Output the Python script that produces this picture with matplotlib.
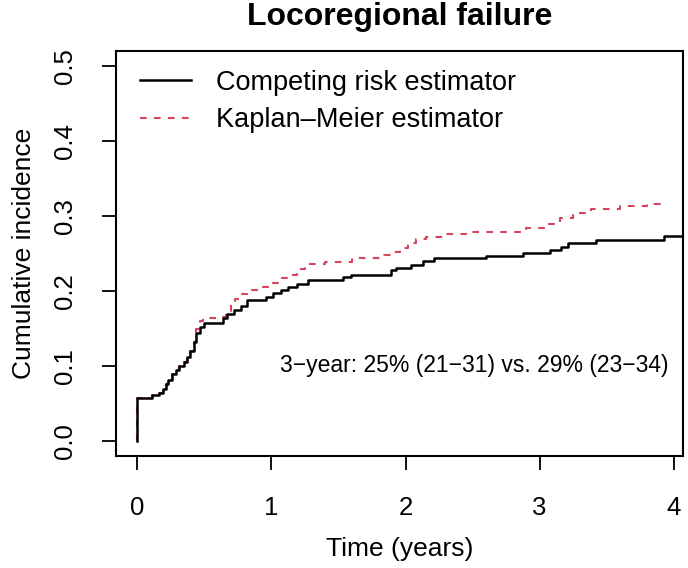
import matplotlib
matplotlib.use("Agg")
import matplotlib.pyplot as plt

plt.rcParams['font.family'] = ['Liberation Sans', 'DejaVu Sans']

# competing risk estimator (step curve)
cr_time = [0, 0, 0.11, 0.16, 0.19, 0.21, 0.23, 0.26, 0.29, 0.31, 0.35, 0.37, 0.39,
           0.42, 0.44, 0.47, 0.50, 0.64, 0.67, 0.72, 0.77, 0.82, 0.96, 1.01, 1.07,
           1.12, 1.19, 1.27, 1.53, 1.59, 1.89, 1.93, 2.04, 2.13, 2.21, 2.60, 2.88,
           3.08, 3.16, 3.21, 3.42, 3.93, 4.07]
cr_value = [0, 0.058, 0.061, 0.064, 0.070, 0.076, 0.082, 0.090, 0.095, 0.100, 0.106,
            0.112, 0.120, 0.132, 0.144, 0.152, 0.157, 0.164, 0.170, 0.175, 0.180,
            0.188, 0.192, 0.197, 0.201, 0.205, 0.210, 0.215, 0.219, 0.222, 0.228,
            0.231, 0.235, 0.240, 0.244, 0.247, 0.251, 0.255, 0.259, 0.264, 0.268,
            0.273, 0.273]

# 1 - Kaplan-Meier
km_time = [0, 0, 0.11, 0.16, 0.19, 0.21, 0.23, 0.26, 0.29, 0.31, 0.35, 0.37, 0.39,
           0.42, 0.44, 0.47, 0.49, 0.62, 0.66, 0.70, 0.73, 0.78, 0.83, 0.92, 1.00,
           1.07, 1.13, 1.19, 1.25, 1.40, 1.60, 1.84, 1.90, 1.96, 2.02, 2.08, 2.15,
           2.28, 2.45, 2.90, 3.05, 3.15, 3.25, 3.38, 3.60, 3.80, 3.90]
km_value = [0, 0.058, 0.061, 0.064, 0.070, 0.076, 0.082, 0.090, 0.095, 0.100, 0.106,
            0.112, 0.120, 0.132, 0.150, 0.160, 0.164, 0.166, 0.172, 0.182, 0.190,
            0.196, 0.201, 0.206, 0.211, 0.217, 0.222, 0.230, 0.236, 0.239, 0.244,
            0.248, 0.252, 0.258, 0.264, 0.269, 0.272, 0.276, 0.279, 0.284, 0.290,
            0.297, 0.304, 0.309, 0.313, 0.316, 0.317]

x_ticks = [0, 1, 2, 3, 4]
y_ticks = [0.0, 0.1, 0.2, 0.3, 0.4, 0.5]
y_tick_labels = ["0.0", "0.1", "0.2", "0.3", "0.4", "0.5"]

fig = plt.figure(figsize=(6.88, 5.68), dpi=100)
ax = fig.add_axes([116 / 688, 112 / 568, 567 / 688, 405 / 568])

ax.step(km_time, km_value, where='post', color='#D6435C', lw=1.5,
        dashes=(3.2, 3.5), label='Kaplan\u2013Meier estimator', zorder=2)
ax.step(cr_time, cr_value, where='post', color='black', lw=1.8,
        label='Competing risk estimator', zorder=3)

ax.set_xlim(-0.16, 4.07)
ax.set_ylim(-0.02, 0.52)
ax.set_xticks(x_ticks)
ax.set_xticklabels([str(t) for t in x_ticks])
ax.set_yticks(y_ticks)
ax.set_yticklabels(y_tick_labels, rotation=90, va='center')
ax.tick_params(direction='out', length=10, width=1.3, labelsize=18.5)
ax.tick_params(axis='x', pad=19)
ax.tick_params(axis='y', pad=18)
for s in ax.spines.values():
    s.set_linewidth(1.5)

ax.set_xlabel('Time (years)', fontsize=19, labelpad=12)
ax.set_ylabel('Cumulative incidence', fontsize=19, labelpad=12)
ax.set_title('Locoregional failure', fontsize=23, fontweight='bold', pad=19)

handles, labels = ax.get_legend_handles_labels()
ax.legend(handles[::-1], labels[::-1], loc='upper left', frameon=False,
          fontsize=19.5, handlelength=1.9, handletextpad=0.9, labelspacing=0.42,
          borderaxespad=0, bbox_to_anchor=(0.023, 0.98))

ax.text(3.96, 0.101, '3\u2212year: 25% (21\u221231) vs. 29% (23\u221234)',
        ha='right', va='center', fontsize=16.5)

fig.savefig('out.png', dpi=100)
